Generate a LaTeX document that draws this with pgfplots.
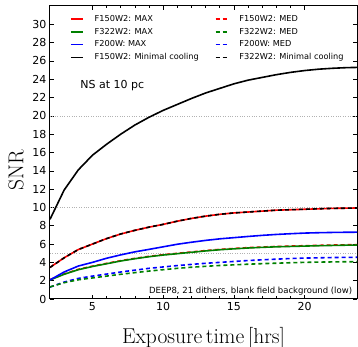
\documentclass[border=0pt]{standalone}
\usepackage{pgfplots}
\pgfplotsset{compat=1.18}
\usepackage{pgfplotstable}
\usepackage{fontspec}
\setsansfont{DejaVu Sans}
\definecolor{mplgreen}{rgb}{0,0.5,0}

\pgfplotstableread{
x  blackmin red   green redmed blue  bluemed greenmed
2  8.7      3.45  2.08  2.12   2.08  1.30    1.32
3  11.9     4.50  2.70  2.74   2.95  1.85    1.78
4  14.1     5.40  3.20  3.24   3.60  2.25    2.10
5  15.7     6.00  3.55  3.59   4.00  2.50    2.30
6  16.9     6.60  3.85  3.89   4.45  2.72    2.50
7  18.0     7.10  4.15  4.19   4.82  2.95    2.70
8  19.0     7.50  4.40  4.44   5.15  3.15    2.88
9  19.85    7.85  4.62  4.66   5.42  3.35    3.05
10 20.6     8.15  4.80  4.84   5.70  3.50    3.20
11 21.25    8.50  4.95  4.99   5.98  3.65    3.35
12 21.9     8.80  5.10  5.14   6.20  3.78    3.47
13 22.5     9.05  5.25  5.29   6.40  3.90    3.57
14 23.0     9.25  5.38  5.42   6.57  4.00    3.66
15 23.5     9.40  5.48  5.52   6.70  4.10    3.73
16 23.9     9.50  5.57  5.61   6.83  4.20    3.80
17 24.2     9.60  5.64  5.68   6.95  4.28    3.86
18 24.5     9.70  5.70  5.74   7.05  4.35    3.91
19 24.75    9.75  5.74  5.78   7.13  4.42    3.96
20 24.95    9.80  5.78  5.82   7.20  4.47    4.00
21 25.1     9.85  5.82  5.86   7.24  4.50    4.03
22 25.2     9.90  5.85  5.89   7.27  4.53    4.05
23 25.27    9.92  5.88  5.92   7.29  4.55    4.07
24 25.3     9.95  5.90  5.94   7.30  4.56    4.08
}\data

\begin{document}
\begin{tikzpicture}
\begin{axis}[
  scale only axis,
  width=307pt, height=293pt,
  xmin=2, xmax=23.7, ymin=0, ymax=32,
  axis line style={line width=1pt},
  tick align=inside,
  xtick={5,10,15,20},
  minor x tick num=4,
  ytick={0,2,...,30},
  major tick length=4pt, minor tick length=2.5pt,
  tick style={black, line width=0.6pt},
  /pgf/number format/assume math mode=true,
  tick label style={font=\sffamily\fontsize{11}{13}\selectfont},
  extra y ticks={5,10,20},
  extra y tick style={grid=major, major grid style={gray!60, dotted, line width=0.6pt}, major tick length=0pt, yticklabels={}},
  xlabel={Exposure\,time\,[hrs]},
  xlabel style={font=\fontsize{21.5}{25}\selectfont, at={(axis description cs:0.5,0)}, yshift=-45pt, anchor=base},
  ylabel={SNR},
  ylabel style={font=\fontsize{21.5}{25}\selectfont, at={(axis description cs:-0.111,0.44)}, anchor=center},
  legend columns=2,
  legend cell align=left,
  legend style={draw=none, fill=none, font=\sffamily\fontsize{8.2}{10}\selectfont,
    at={(axis description cs:0.055,0.983)}, anchor=north west, row sep=1.2pt,
    /tikz/every odd column/.append style={column sep=9pt},
    /tikz/every even column/.append style={column sep=14pt}},
  legend image code/.code={\draw[#1] (0pt,0pt) -- (12pt,0pt);},
]
\addlegendimage{red, line width=1.6pt}
\addlegendentry{F150W2: MAX}
\addlegendimage{red, line width=1.6pt, dash pattern=on 4pt off 3pt}
\addlegendentry{F150W2: MED}
\addlegendimage{mplgreen, line width=1.6pt}
\addlegendentry{F322W2: MAX}
\addlegendimage{mplgreen, line width=1.6pt, dash pattern=on 4pt off 3pt}
\addlegendentry{F322W2: MED}
\addlegendimage{blue, line width=1.6pt}
\addlegendentry{F200W: MAX}
\addlegendimage{blue, line width=1.6pt, dash pattern=on 4pt off 3pt}
\addlegendentry{F200W: MED}
\addlegendimage{black, line width=1.6pt}
\addlegendentry{F150W2: Minimal cooling}
\addlegendimage{black, line width=1.6pt, dash pattern=on 4pt off 3pt}
\addlegendentry{F322W2: Minimal cooling}

\addplot[forget plot, black, line width=1.6pt] table[x=x, y=blackmin] {\data};
\addplot[forget plot, red, line width=1.6pt] table[x=x, y=red] {\data};
\addplot[forget plot, black, line width=1.6pt, dash pattern=on 4pt off 3pt] table[x=x, y=red] {\data};
\addplot[forget plot, red, line width=1.6pt, dash pattern=on 4pt off 3pt] table[x=x, y=redmed] {\data};
\addplot[forget plot, mplgreen, line width=1.6pt] table[x=x, y=green] {\data};
\addplot[forget plot, blue, line width=1.6pt] table[x=x, y=blue] {\data};
\addplot[forget plot, blue, line width=1.6pt, dash pattern=on 4pt off 3pt] table[x=x, y=bluemed] {\data};
\addplot[forget plot, mplgreen, line width=1.6pt, dash pattern=on 4pt off 3pt] table[x=x, y=greenmed] {\data};

\node[anchor=west, font=\sffamily\fontsize{11}{13}\selectfont] at (axis cs:3.9,23.3) {NS at 10 pc};
\node[anchor=east, font=\sffamily\fontsize{8.5}{10}\selectfont] at (axis cs:23.6,0.85) {DEEP8, 21 dithers, blank field background (low)};
\end{axis}
\pgfresetboundingbox
\path[use as bounding box] (-50pt,-48pt) rectangle (308pt,299pt);
\end{tikzpicture}
\end{document}
